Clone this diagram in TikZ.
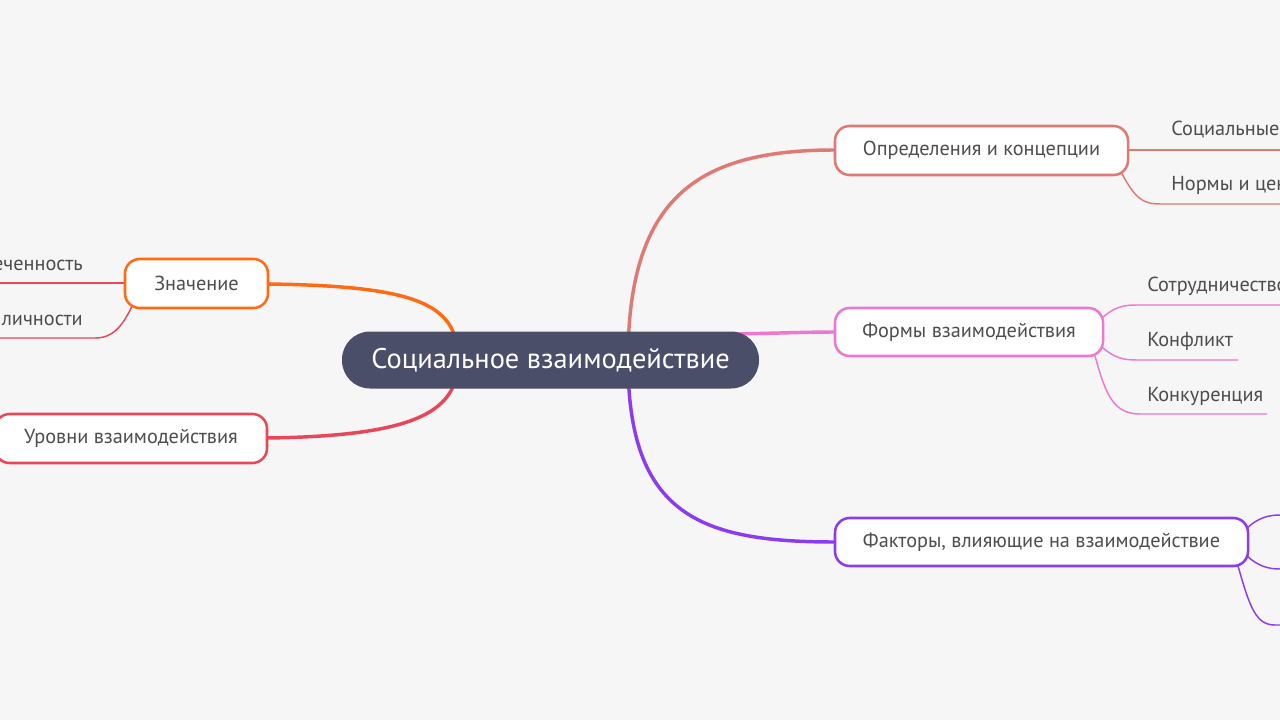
\documentclass[tikz,border=0pt]{standalone}
\usepackage{fontspec}
\setmainfont{PT Sans}
\definecolor{bg}{HTML}{F6F6F6}
\definecolor{txt}{HTML}{4D4D4D}
\definecolor{cdark}{HTML}{4B4E69}
\definecolor{corange}{HTML}{FF6A13}
\definecolor{cred}{HTML}{E8475A}
\definecolor{csalmon}{HTML}{DE7A73}
\definecolor{cpink}{HTML}{EC78D0}
\definecolor{cpurple}{HTML}{8B3CF0}
\begin{document}
\begin{tikzpicture}[x=0.75pt,y=-0.75pt,
  box/.style={draw, fill=white, line width=1.9pt, rounded corners=11pt, text=txt,
    font=\fontsize{15.2}{18}\selectfont, inner sep=0pt},
  leaf/.style={text=txt, font=\fontsize{15.2}{18}\selectfont, inner sep=0pt},
  br/.style={line width=2.6pt},
  sub/.style={line width=1.1pt}]
\fill[bg] (0,0) rectangle (1280,720);
\useasboundingbox (0,0) rectangle (1280,720);
\clip (0,0) rectangle (1280,720);

% anchor coordinates inside central node
\coordinate (cL) at (458,360);
\coordinate (cR) at (628,360);
\coordinate (cP) at (720,334);

% main branches
\coordinate (znE) at (268,284);
\coordinate (urE) at (267,438);
\coordinate (opW) at (835,150);
\coordinate (fmW) at (835,332);
\coordinate (fkW) at (835,542);
\draw[br, corange] (znE) .. controls (420,286) and (458,305) .. (cL);
\draw[br, cred] (urE) .. controls (420,436) and (458,410) .. (cL);
\draw[br, csalmon] (cR) .. controls (628,195) and (700,150) .. (opW);
\draw[br, cpink] (cP) .. controls (760,334) and (800,332) .. (fmW);
\draw[br, cpurple] (cR) .. controls (628,515) and (700,542) .. (fkW);

% sub connectors: Определения
\coordinate (a1) at (1128,150);
\coordinate (a1e) at (1290,150);
\coordinate (a2) at (1121,172);
\coordinate (a2e) at (1290,204);
\draw[sub, csalmon] (a1) -- (a1e);
\draw[sub, csalmon] (a2) .. controls (1135,198) and (1142,204) .. (1160,204) -- (a2e);
% Формы
\coordinate (b1) at (1102,318);
\coordinate (b1e) at (1290,305);
\coordinate (b2) at (1102,347);
\coordinate (b2e) at (1238,360);
\coordinate (b3) at (1095,356);
\coordinate (b3e) at (1267,414);
\draw[sub, cpink] (b1) .. controls (1114,307) and (1124,305) .. (1136,305) -- (b1e);
\draw[sub, cpink] (b2) .. controls (1114,358) and (1124,360) .. (1136,360) -- (b2e);
\draw[sub, cpink] (b3) .. controls (1106,396) and (1114,414) .. (1140,414) -- (b3e);
% Факторы
\coordinate (c1) at (1247,528);
\coordinate (c1e) at (1300,515);
\coordinate (c2) at (1247,556);
\coordinate (c2e) at (1300,569);
\coordinate (c3) at (1238,566);
\coordinate (c3e) at (1300,625);
\draw[sub, cpurple] (c1) .. controls (1258,518) and (1268,515) .. (1280,515) -- (c1e);
\draw[sub, cpurple] (c2) .. controls (1258,566) and (1268,569) .. (1280,569) -- (c2e);
\draw[sub, cpurple] (c3) .. controls (1250,608) and (1256,625) .. (1275,625) -- (c3e);
% Значение
\coordinate (d1) at (126,283);
\coordinate (d1e) at (-20,283);
\coordinate (d2) at (133,304);
\coordinate (d2e) at (-20,338);
\draw[sub, cred] (d1) -- (d1e);
\draw[sub, cred] (d2) .. controls (122,328) and (112,338) .. (95,338) -- (d2e);
% Уровни (off-page child)
\coordinate (e1) at (4,456);
\coordinate (e1e) at (-20,466);
\draw[sub, corange] (e1) -- (e1e);

% central node
\node[fill=cdark, rounded corners=21pt, minimum width=417*0.75pt, minimum height=57*0.75pt,
  text=white, font=\fontsize{21.3}{25}\selectfont, inner sep=0pt] (c) at (550.5,360) {Социальное взаимодействие};

% first-level boxes
\node[box, draw=corange, minimum width=143*0.75pt, minimum height=49*0.75pt] (zn) at (196.5,283.5) {Значение};
\node[box, draw=cred, minimum width=272*0.75pt, minimum height=49*0.75pt] (ur) at (131,438.5) {Уровни взаимодействия};
\node[box, draw=csalmon, minimum width=293*0.75pt, minimum height=49*0.75pt] (op) at (981.5,150.5) {Определения и концепции};
\node[box, draw=cpink, minimum width=268*0.75pt, minimum height=48*0.75pt] (fm) at (969,332) {Формы взаимодействия};
\node[box, draw=cpurple, minimum width=413*0.75pt, minimum height=48*0.75pt] (fk) at (1041.5,542) {Факторы, влияющие на взаимодействие};

% leaves
\node[leaf, anchor=base west] (l1) at (1171,136) {Социальные};
\node[leaf, anchor=base west] (l2) at (1171,191) {Нормы и ценности};
\node[leaf, anchor=base west] (l3) at (1147,291) {Сотрудничество};
\node[leaf, anchor=base west] (l4) at (1147,346) {Конфликт};
\node[leaf, anchor=base west] (l5) at (1147,401) {Конкуренция};
\node[leaf, anchor=base east] (l6) at (83,270) {Вовлеченность};
\node[leaf, anchor=base east] (l7) at (83,325) {Развитие личности};
\end{tikzpicture}
\end{document}
